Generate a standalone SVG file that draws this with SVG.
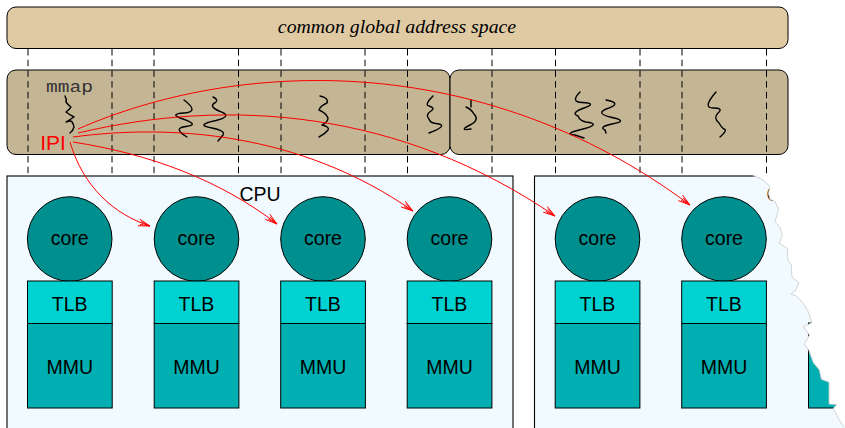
<svg xmlns="http://www.w3.org/2000/svg" width="845" height="428" viewBox="0 0 845 428">
<style>
text{font-family:"Liberation Sans",Arial,sans-serif;font-size:19.500px;fill:#000;text-anchor:middle}
.cpu{fill:#f0faff;stroke:#000;stroke-width:1.100}
.core{fill:#008f8f;stroke:#000;stroke-width:1}
.tlb{fill:#00d2d2;stroke:#000;stroke-width:1}
.mmu{fill:#00afb1;stroke:#000;stroke-width:1}
.tan{fill:#c4b594;stroke:#000;stroke-width:1}
.dash{stroke:#000;stroke-width:1;stroke-dasharray:6.500 4.200;fill:none}
.ipi{fill:none;stroke:#ff0000;stroke-width:1;marker-end:url(#arrow)}
.sq{fill:none;stroke:#000;stroke-width:1.400;stroke-linejoin:round;stroke-linecap:round}
</style>
<defs>
<marker id="arrow" markerUnits="userSpaceOnUse" markerWidth="14" markerHeight="10" refX="12" refY="5" orient="auto">
<path d="M0,1.500 L12,5 L0,8.500 M2,3.500 L12,5 L2,6.500" fill="none" stroke="#ff0000" stroke-width="0.900"/>
</marker>
</defs>

<g id="global-address-space">
<rect x="7" y="7" width="781" height="41.500" rx="9" ry="9" fill="#dfcaa4" stroke="#000"/>
<text x="397" y="33" style="font-family:'Liberation Serif',serif;font-style:italic;font-size:19.800px">common global address space</text>
</g>

<g id="process-left"><rect class="tan" x="7" y="70" width="443" height="84.500" rx="9" ry="9"/></g>
<g id="process-right"><rect class="tan" x="450" y="70" width="338" height="84.500" rx="9" ry="9"/></g>

<g id="cpu-left">
<rect class="cpu" x="7" y="176" width="506" height="270"/>
<text x="260" y="201">CPU</text>
</g>
<g id="cpu-right">
<rect class="cpu" x="534.500" y="176" width="340" height="270"/>
<text x="787" y="201">CPU</text>
</g>

<g id="core-1"><circle class="core" cx="69.700" cy="239" r="42.300"/><rect class="tlb" x="27.500" y="281" width="84.700" height="42.500"/><rect class="mmu" x="27.500" y="323.500" width="84.700" height="84.500"/><text x="69.700" y="245">core</text><text x="69.700" y="310.500">TLB</text><text x="69.700" y="374">MMU</text></g>
<g id="core-2"><circle class="core" cx="196.500" cy="239" r="42.300"/><rect class="tlb" x="154.200" y="281" width="84.700" height="42.500"/><rect class="mmu" x="154.200" y="323.500" width="84.700" height="84.500"/><text x="196.500" y="245">core</text><text x="196.500" y="310.500">TLB</text><text x="196.500" y="374">MMU</text></g>
<g id="core-3"><circle class="core" cx="323" cy="239" r="42.300"/><rect class="tlb" x="280.700" y="281" width="84.700" height="42.500"/><rect class="mmu" x="280.700" y="323.500" width="84.700" height="84.500"/><text x="323" y="245">core</text><text x="323" y="310.500">TLB</text><text x="323" y="374">MMU</text></g>
<g id="core-4"><circle class="core" cx="449.500" cy="239" r="42.300"/><rect class="tlb" x="407.200" y="281" width="84.700" height="42.500"/><rect class="mmu" x="407.200" y="323.500" width="84.700" height="84.500"/><text x="449.500" y="245">core</text><text x="449.500" y="310.500">TLB</text><text x="449.500" y="374">MMU</text></g>
<g id="core-5"><circle class="core" cx="597.500" cy="239" r="42.300"/><rect class="tlb" x="555.200" y="281" width="84.700" height="42.500"/><rect class="mmu" x="555.200" y="323.500" width="84.700" height="84.500"/><text x="597.500" y="245">core</text><text x="597.500" y="310.500">TLB</text><text x="597.500" y="374">MMU</text></g>
<g id="core-6"><circle class="core" cx="724" cy="239" r="42.300"/><rect class="tlb" x="681.700" y="281" width="84.700" height="42.500"/><rect class="mmu" x="681.700" y="323.500" width="84.700" height="84.500"/><text x="724" y="245">core</text><text x="724" y="310.500">TLB</text><text x="724" y="374">MMU</text></g>
<g id="core-7"><rect class="tlb" x="808.500" y="323" width="60" height="42.500"/><rect class="mmu" x="808.500" y="336" width="60" height="72"/></g>

<g id="threads">
<text x="69.500" y="92" style="font-family:'Liberation Mono',monospace;font-size:16px;fill:#333" textLength="47" lengthAdjust="spacingAndGlyphs">mmap</text>
<path class="sq" d="M65,96 Q67,100 66,102 Q68,105 71,107 Q69,110 66,112 Q70,115 74,117 Q71,119 66,122 Q72,120 72,122 Q74,125 74,127 Q73,131 70,133"/>
<path class="sq" d="M184,100 Q200,112 184,113 Q168,114 183,119 Q200,125 186,126.500 Q172,128 187,137"/>
<path class="sq" d="M213,97 Q219,100 215.500,102.500 Q208,106 219,111 Q234,116 216,120.500 Q194,125 212,128 Q226,131 223,135 L218,141"/>
<path class="sq" d="M320,96 Q329,98 327,103 Q320,106 319,110 Q326,113 328,118 Q328,122 322,125 Q330,127 328,130 Q325,134 319,137"/>
<path class="sq" d="M433,96 Q424,105 429,106 Q436,108 431,111 Q425,115 429,119 Q430,123 436,123.500 Q450,125 429,133"/>
<path class="sq" d="M471,100 L471,107 M466,107 Q471,109 474,114 Q480,120 470,125 Q458,131 471,129"/>
<path class="sq" d="M580,92 Q570,102 582,102.500 Q598,103 584,108 Q570,113 578,116 Q580,121 586,122 Q602,124 583,129 Q562,134 575,135 L584,138"/>
<path class="sq" d="M606,100 Q622,103 609,108 Q594,113 610,117 Q630,121 612,124 Q598,127 605,130 L606,133"/>
<path class="sq" d="M716,92 Q702,108 713,108 Q724,108 718,113 Q713,118 719,123 Q722,128 724,129 Q728,130 720,137"/>
<text x="53" y="150" style="fill:#ff0000;font-size:21px">IPI</text>
</g>

<g id="connectors">
<path class="dash" d="M28,49V175M112,49V175M154,49V175M238.500,49V175M281,49V175M365,49V175M407.500,49V175M492,49V175M555.500,49V175M640,49V175M682,49V175M766.500,49V175"/>
<path class="ipi" d="M70,142 C83,187 115,215 150,226"/>
<path class="ipi" d="M73,142 C150,154 220,180 277,224"/>
<path class="ipi" d="M73,137 C170,124 300,132 413,211"/>
<path class="ipi" d="M78,133 C230,97 400,110 555,216"/>
<path class="ipi" d="M78,129 C235,60 480,48 690,205"/>
</g>

<g id="torn-edge">
<path d="M752.700,175.300 L763,180 L770,186.700 L768.300,193.300 L770,199.300 L775,201.700 L778.700,209.300 L775,221.700 L780,227.300 L782.300,235 L779.300,243.300 L787.300,248.300 L787.700,259.300 L791.300,265 L792,277.300 L799,282.700 L796,290 L791,294.300 L796,295.700 L803.300,303.300 L808.300,311.700 L811.700,322.700 L803.300,326.700 L809.300,335 L804.300,344.300 L808.700,350 L813.300,362.700 L819.300,370 L821.300,379.300 L829,382.300 L829,404 L836.700,404.700 L833.300,408.300 L838.300,418.300 L844,427.300 L880,440 L880,170 Z" fill="#ffffff"/>
<path d="M752.700,175.300 L763,180 L770,186.700 L768.300,193.300 L770,199.300 L775,201.700 L778.700,209.300 L775,221.700 L780,227.300 L782.300,235 L779.300,243.300 L787.300,248.300 L787.700,259.300 L791.300,265 L792,277.300 L799,282.700 L796,290 L791,294.300 L796,295.700 L803.300,303.300 L808.300,311.700 L811.700,322.700 L803.300,326.700 L809.300,335 L804.300,344.300 L808.700,350 L813.300,362.700 L819.300,370 L821.300,379.300 L829,382.300 L829,404 L836.700,404.700 L833.300,408.300 L838.300,418.300 L844,427.300" fill="none" stroke="#c8c8c8" stroke-width="0.800"/>
</g>
</svg>
